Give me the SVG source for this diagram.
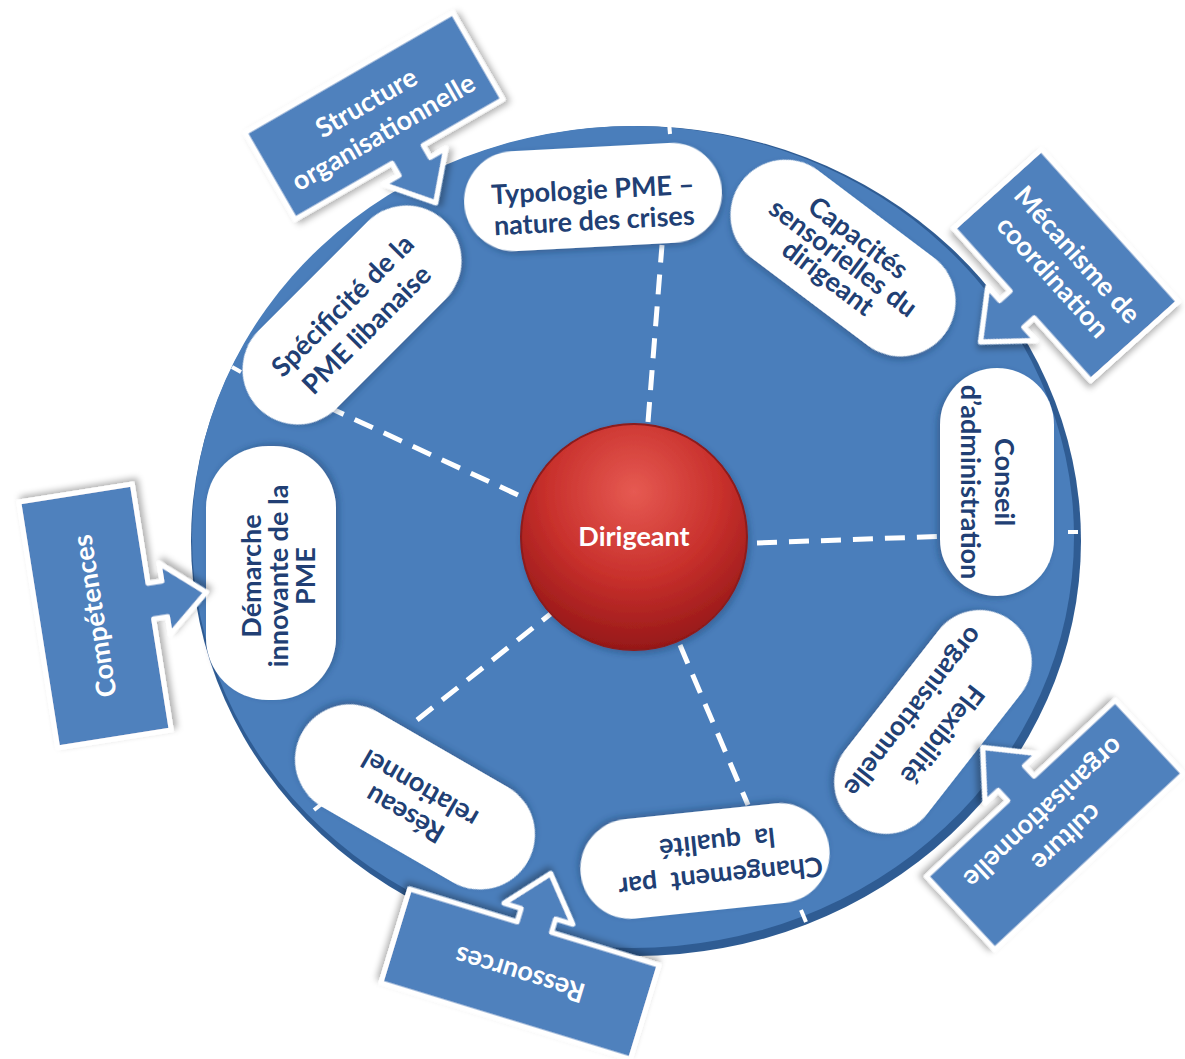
<svg xmlns="http://www.w3.org/2000/svg" width="1185" height="1059" viewBox="0 0 1185 1059">
<defs>
<style>
.pill{fill:#fff;filter:url(#psh)}
.pt{font-family:Lato,"Liberation Sans",sans-serif;font-weight:700;font-size:27px;fill:#213f74;text-anchor:middle}
.ct{font-family:Lato,"Liberation Sans",sans-serif;font-weight:700;font-size:27px;fill:#fff;text-anchor:middle}
.box{fill:#4f81bd;stroke:#fff;stroke-width:5;stroke-linejoin:round;filter:url(#bsh)}
.spoke{stroke:#fff;stroke-width:5;stroke-dasharray:20 12;fill:none}
.tick{stroke:#fff;stroke-width:4;fill:none}
</style>
<filter id="psh" x="-20%" y="-20%" width="140%" height="140%"><feDropShadow dx="2" dy="3" stdDeviation="3" flood-color="#1a3660" flood-opacity="0.4"/></filter>
<filter id="bsh" x="-20%" y="-20%" width="140%" height="140%"><feDropShadow dx="3" dy="4" stdDeviation="3" flood-color="#000" flood-opacity="0.3"/></filter>
<radialGradient id="red" cx="50%" cy="30%" r="70%">
<stop offset="0" stop-color="#e65a52"/>
<stop offset="0.55" stop-color="#c8302c"/>
<stop offset="1" stop-color="#961818"/>
</radialGradient>
</defs>
<rect width="1185" height="1059" fill="#fff"/>

<g id="wheel">
<ellipse cx="636" cy="541" rx="445" ry="415" fill="#2f5c93"/>
<ellipse cx="633" cy="537" rx="441" ry="411" fill="#4a7ebb"/>
</g>

<g id="connectors">
<line class="spoke" x1="648" y1="422" x2="662" y2="245"/>
<line class="spoke" x1="518" y1="495" x2="330" y2="408"/>
<line class="spoke" x1="757" y1="543" x2="950" y2="536"/>
<line class="spoke" x1="680" y1="645" x2="748" y2="805"/>
<line class="spoke" x1="558" y1="608" x2="412" y2="724"/>
<line class="tick" x1="669" y1="122" x2="670" y2="134"/>
<line class="tick" x1="232" y1="367" x2="241" y2="372"/>
<line class="tick" x1="1068" y1="532" x2="1078" y2="532"/>
<line class="tick" x1="801" y1="910" x2="806" y2="922"/>
<line class="tick" x1="314" y1="810" x2="323" y2="803"/>
</g>

<g id="n-typologie" transform="translate(593,197) rotate(-3)">
<rect class="pill" x="-129" y="-50" width="258" height="100" rx="50"/>
<text class="pt" x="0" y="2">Typologie PME –</text>
<text class="pt" x="0" y="33">nature des crises</text>
</g>

<g id="n-capacites" transform="translate(843,258) rotate(37)">
<rect class="pill" x="-127" y="-55" width="254" height="110" rx="55"/>
<text class="pt" x="0" y="-16">Capacités</text>
<text class="pt" x="0" y="9">sensorielles du</text>
<text class="pt" x="0" y="34">dirigeant</text>
</g>

<g id="n-conseil" transform="translate(997,482) rotate(90)">
<rect class="pill" x="-114" y="-57" width="228" height="114" rx="57"/>
<text class="pt" x="0" y="2">Conseil</text>
<text class="pt" x="0" y="36" font-size="26">d’administration</text>
</g>

<g id="n-flexibilite" transform="translate(933,722) rotate(128)">
<rect class="pill" x="-128" y="-52" width="256" height="104" rx="52"/>
<text class="pt" x="4" y="-6">Flexibilité</text>
<text class="pt" x="4" y="31">organisationnelle</text>
</g>

<g id="n-changement" transform="translate(705,861) rotate(174)">
<rect class="pill" x="-125" y="-50" width="250" height="100" rx="50"/>
<text class="pt" x="-14" y="-8" word-spacing="7">Changement par</text>
<text class="pt" x="-14" y="26" word-spacing="7">la qualité</text>
</g>

<g id="n-reseau" transform="translate(415,797) rotate(210)">
<rect class="pill" x="-130" y="-55" width="260" height="110" rx="55"/>
<text class="pt" x="0" y="-11">Réseau</text>
<text class="pt" x="0" y="19">relationnel</text>
</g>

<g id="n-demarche" transform="translate(271,573) rotate(-90)">
<rect class="pill" x="-127" y="-65" width="254" height="130" rx="62"/>
<text class="pt" x="-3" y="-10">Démarche</text>
<text class="pt" x="-3" y="17">innovante de la</text>
<text class="pt" x="-3" y="44">PME</text>
</g>

<g id="n-specificite" transform="translate(352,315) rotate(-45)">
<rect class="pill" x="-132" y="-55" width="264" height="110" rx="55"/>
<text class="pt" x="0" y="-4">Spécificité de la</text>
<text class="pt" x="0" y="30">PME libanaise</text>
</g>

<g id="n-dirigeant">
<circle cx="634" cy="537" r="113" fill="url(#red)" stroke="#8c1a1a" stroke-width="2" filter="url(#psh)"/>
<text class="ct" x="634" y="546" font-size="24">Dirigeant</text>
</g>

<g id="c-structure" transform="translate(374,116) rotate(-30)">
<path class="box" d="M-120,-50 H120 V50 H28 V64 H46 L10,106 L-26,64 H-8 V50 H-120 Z"/>
<text class="ct" x="0" y="-6">Structure</text>
<text class="ct" x="0" y="28">organisationnelle</text>
</g>

<g id="c-mecanisme" transform="translate(1066,265) rotate(48)">
<path class="box" d="M-102.5,-59 H102.5 V59 H18 V73 H36 L0,115 L-36,73 H-18 V59 H-102.5 Z"/>
<text class="ct" x="0" y="-6">Mécanisme de</text>
<text class="ct" x="0" y="27">coordination</text>
</g>

<g id="c-competences" transform="translate(95,616) rotate(-99)">
<path class="box" d="M-124.5,-57.5 H124.5 V57.5 H24 V71.5 H42 L6,113.5 L-30,71.5 H-12 V57.5 H-124.5 Z"/>
<text class="ct" x="0" y="9">Compétences</text>
</g>

<g id="c-culture" transform="translate(1055,825) rotate(137)">
<path class="box" d="M-129,-50 H129 V50 H18 V64 H36 L0,106 L-36,64 H-18 V50 H-129 Z"/>
<text class="ct" x="0" y="-8">culture</text>
<text class="ct" x="0" y="26">organisationnelle</text>
</g>

<g id="c-ressources" transform="translate(520,974) rotate(197)">
<path class="box" d="M-130.5,-49 H130.5 V49 H18 V63 H36 L0,105 L-36,63 H-18 V49 H-130.5 Z"/>
<text class="ct" x="0" y="9">Ressources</text>
</g>
</svg>
